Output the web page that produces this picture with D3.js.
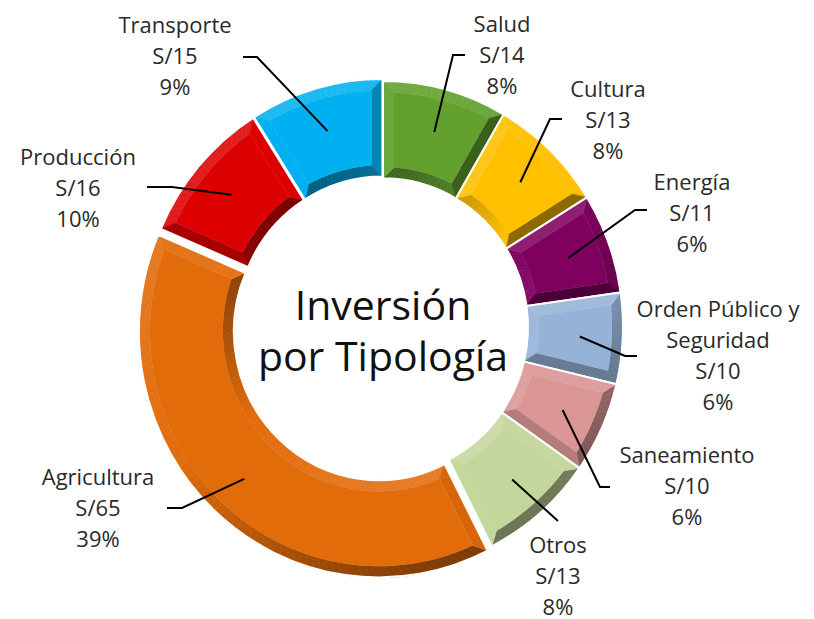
<!DOCTYPE html>
<html>
<head>
<meta charset="utf-8">
<script src="https://cdn.jsdelivr.net/npm/d3@7"></script>
<style>
  body { margin: 0; background: #fff; }
  text { font-family: "Open Sans", "Noto Sans", sans-serif; fill: #2a2a2a; }
</style>
</head>
<body>
<div id="chart"></div>
<script>
// data, clockwise from 12 o'clock
const categories = ["Salud", "Cultura", "Energía", "Orden Público y Seguridad", "Saneamiento", "Otros", "Agricultura", "Producción", "Transporte"];
const amounts = [14, 13, 11, 10, 10, 13, 65, 16, 15];
const amountLabels = ["S/14", "S/13", "S/11", "S/10", "S/10", "S/13", "S/65", "S/16", "S/15"];
const percentLabels = ["8%", "8%", "6%", "6%", "6%", "8%", "39%", "10%", "9%"];
const titleLines = ["Inversión", "por Tipología"];

const colors = ["#62a12e", "#ffc000", "#80005f", "#95b3d7", "#d99694", "#c3d69b", "#e26b0a", "#dd0000", "#00b0f0"];
const explode = [0, 0, 0, 0, 0, 0, 6, 2, 2];

// label placement: text centre x, first baseline, leader start and stub end
const labelLayout = [
  { x: 502, y: 32, lines: ["Salud"], ax: 465, ay: 55, stub: 453 },
  { x: 608, y: 97, lines: ["Cultura"], ax: 562, ay: 119, stub: 550 },
  { x: 692, y: 190, lines: ["Energía"], ax: 647, ay: 210, stub: 635 },
  { x: 718, y: 317, lines: ["Orden Público y", "Seguridad"], ax: 637, ay: 356, stub: 625 },
  { x: 687, y: 463, lines: ["Saneamiento"], ax: 610, ay: 487, stub: 600 },
  { x: 558, y: 553, lines: ["Otros"], ax: 558, ay: 521, stub: null },
  { x: 98, y: 485, lines: ["Agricultura"], ax: 167, ay: 508, stub: 182 },
  { x: 78, y: 165, lines: ["Producción"], ax: 147, ay: 187, stub: 172 },
  { x: 175, y: 33, lines: ["Transporte"], ax: 243, ay: 57, stub: 257 }
];

const W = 814, H = 619;
const cx = 383, cy = 327, sy = 1.025;
const rOut = 240, rIn = 145, bevel = 11, rLead = 197;
const lineH = 31;

const rows = categories.map((c, i) => ({
  name: c, value: amounts[i], amt: amountLabels[i], pct: percentLabels[i],
  color: colors[i], ex: explode[i], lay: labelLayout[i]
}));

const svg = d3.select("#chart").append("svg")
  .attr("width", W).attr("height", H);

const pie = d3.pie().sort(null).value(d => d.value);
const arcs = pie(rows);

const pt = (a, r) => [r * Math.sin(a), -r * Math.cos(a)];
const L = (() => { const x = -0.55, y = -0.85, m = Math.hypot(x, y); return [x / m, y / m]; })();
function shade(c, n) {
  const f = n[0] * L[0] + n[1] * L[1];
  return f > 0 ? d3.interpolateRgb(c, "#fff")(0.12 * f) : d3.interpolateRgb(c, "#000")(0.45 * -f);
}
const poly = p => "M" + p.map(q => q[0].toFixed(2) + "," + q[1].toFixed(2)).join("L") + "Z";

const donut = svg.append("g").attr("transform", `translate(${cx},${cy}) scale(1,${sy})`);

arcs.forEach(d => {
  const a0 = d.startAngle, a1 = d.endAngle, mid = (a0 + a1) / 2;
  const ox = d.data.ex * Math.sin(mid), oy = -d.data.ex * Math.cos(mid);
  const g = donut.append("g").attr("transform", `translate(${ox},${oy})`);
  const c = d.data.color;
  const R2 = rOut - bevel, r2 = rIn + bevel;
  const fo0 = a0 + Math.asin(bevel / R2), fo1 = a1 - Math.asin(bevel / R2);
  const fi0 = a0 + Math.asin(bevel / r2), fi1 = a1 - Math.asin(bevel / r2);
  const n = Math.max(2, Math.ceil((a1 - a0) / 0.03));

  // outer and inner bevel bands, split so the shade follows the curve
  for (let k = 0; k < n; k++) {
    const t0 = k / n, t1 = (k + 1) / n, tm = (t0 + t1) / 2;
    const A = t => a0 + (a1 - a0) * t, FO = t => fo0 + (fo1 - fo0) * t, FI = t => fi0 + (fi1 - fi0) * t;
    const am = A(tm);
    const co = shade(c, [Math.sin(am), -Math.cos(am)]);
    g.append("path").attr("d", poly([pt(A(t0), rOut), pt(A(t1), rOut), pt(FO(t1), R2), pt(FO(t0), R2)]))
      .attr("fill", co).attr("stroke", co).attr("stroke-width", 0.6);
    const ci = shade(c, [-Math.sin(am), Math.cos(am)]);
    g.append("path").attr("d", poly([pt(A(t0), rIn), pt(A(t1), rIn), pt(FI(t1), r2), pt(FI(t0), r2)]))
      .attr("fill", ci).attr("stroke", ci).attr("stroke-width", 0.6);
  }
  // radial edge bands
  const cs = shade(c, [-Math.cos(a0), -Math.sin(a0)]);
  g.append("path").attr("d", poly([pt(a0, rOut), pt(fo0, R2), pt(fi0, r2), pt(a0, rIn)]))
    .attr("fill", cs).attr("stroke", cs).attr("stroke-width", 0.6);
  const ce = shade(c, [Math.cos(a1), Math.sin(a1)]);
  g.append("path").attr("d", poly([pt(a1, rOut), pt(fo1, R2), pt(fi1, r2), pt(a1, rIn)]))
    .attr("fill", ce).attr("stroke", ce).attr("stroke-width", 0.6);

  // flat face
  const face = [];
  for (let k = 0; k <= n; k++) face.push(pt(fo0 + (fo1 - fo0) * k / n, R2));
  for (let k = n; k >= 0; k--) face.push(pt(fi0 + (fi1 - fi0) * k / n, r2));
  g.append("path").attr("d", poly(face)).attr("fill", c);

  // white separator outline
  g.append("path")
    .attr("d", d3.arc().innerRadius(rIn).outerRadius(rOut)(d))
    .attr("fill", "none").attr("stroke", "#fff").attr("stroke-width", 2);
});

// leader lines
const leadArc = d3.arc().innerRadius(rLead).outerRadius(rLead);
arcs.forEach(d => {
  const mid = (d.startAngle + d.endAngle) / 2;
  const [px, py] = leadArc.centroid(d);
  const ex = px + d.data.ex * Math.sin(mid), ey = py - d.data.ex * Math.cos(mid);
  const end = [cx + ex, cy + ey * sy];
  const lay = d.data.lay;
  const p = d3.path();
  p.moveTo(lay.ax, lay.ay);
  if (lay.stub !== null) p.lineTo(lay.stub, lay.ay);
  p.lineTo(end[0], end[1]);
  svg.append("path").attr("d", p.toString())
    .attr("fill", "none").attr("stroke", "#000").attr("stroke-width", 2);
});

// data labels
arcs.forEach(d => {
  const lay = d.data.lay;
  const lines = lay.lines.concat([d.data.amt, d.data.pct]);
  const t = svg.append("text").attr("text-anchor", "middle").style("font-size", "22px");
  lines.forEach((s, i) => {
    t.append("tspan").attr("x", lay.x).attr("y", lay.y + i * lineH).text(s);
  });
});

// centre title
svg.append("g").selectAll("text").data(titleLines).join("text")
  .attr("x", cx).attr("y", (d, i) => 320 + i * 51)
  .attr("text-anchor", "middle")
  .style("font-size", "41px").style("fill", "#111")
  .text(d => d);
</script>
</body>
</html>
